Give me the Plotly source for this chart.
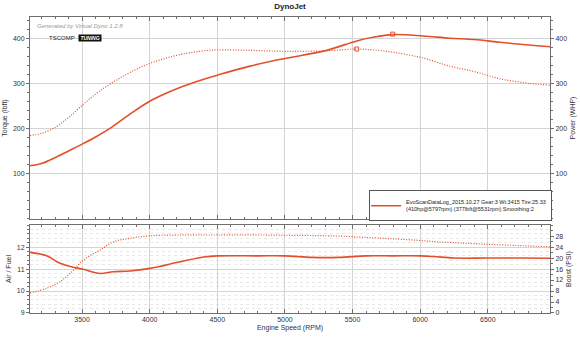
import plotly.graph_objects as go

# ---- data ----
rpm_top = [3115, 3200, 3300, 3400, 3500, 3600, 3700, 3800, 3900, 4000, 4100, 4200, 4300, 4400, 4500,
           4742, 5000, 5309, 5531, 5650, 5799, 6021, 6220, 6400, 6590, 6800, 6960]
power_whp = [118, 123, 136, 151, 166, 182, 200, 221, 242, 261, 276, 289, 300, 310, 319,
             339, 356, 374, 395, 403, 409, 406, 401, 398, 392, 386, 382]
torque_lbft = [185, 190, 203, 225, 252, 277, 298, 316, 332, 345, 355, 363, 369, 373, 375,
               374, 372, 373, 377, 375, 370, 357, 339, 327, 311, 301, 297]

rpm_bot = [3115, 3238, 3337, 3435, 3509, 3633, 3731, 3854, 4002, 4224, 4400, 4500, 4800, 5000,
           5200, 5400, 5600, 5800, 6000, 6100, 6250, 6500, 6750, 6960]
afr = [11.76, 11.60, 11.26, 11.08, 10.99, 10.80, 10.88, 10.91, 11.03, 11.33, 11.55, 11.60, 11.60, 11.60,
       11.53, 11.53, 11.60, 11.60, 11.60, 11.57, 11.50, 11.50, 11.50, 11.49]
boost_psi = [7.3, 9.0, 11.4, 15.5, 19.3, 22.9, 25.9, 27.2, 28.1, 28.4, 28.4, 28.4, 28.4, 28.3,
             28.2, 28.0, 27.5, 27.0, 26.4, 26.0, 25.6, 25.0, 24.5, 24.1]

peak_hp_rpm = [5797]
peak_hp = [410]
peak_tq_rpm = [5531]
peak_tq = [377]

x_ticks = [3500, 4000, 4500, 5000, 5500, 6000, 6500]
legend_name = ("EvoScanDataLog_2015.10.27 Gear:3 Wt:3415 Tire:25.33<br>"
               "(410hp@5797rpm) (377lbft@5531rpm) Smoothing:2")

RED = "#E2502A"
GRID = "#D4D4D4"
AX = "#6E6E6E"
FONT = "Liberation Sans"
DOTS = "1px,1.6px"

fig = go.Figure()

# top plot: power (solid, right axis) and torque (dotted, left axis)
fig.add_trace(go.Scatter(x=rpm_top, y=torque_lbft, xaxis="x2", yaxis="y3", mode="lines",
                         line=dict(color=RED, width=1.2, dash=DOTS, shape="spline"), showlegend=False))
fig.add_trace(go.Scatter(x=rpm_top, y=power_whp, xaxis="x2", yaxis="y4", mode="lines",
                         line=dict(color=RED, width=1.6, shape="spline"), name=legend_name))
fig.add_trace(go.Scatter(x=peak_hp_rpm, y=peak_hp, xaxis="x2", yaxis="y4", mode="markers",
                         marker=dict(symbol="square-open", size=4, color=RED, line=dict(width=1)),
                         showlegend=False))
fig.add_trace(go.Scatter(x=peak_tq_rpm, y=peak_tq, xaxis="x2", yaxis="y3", mode="markers",
                         marker=dict(symbol="square-open", size=4, color=RED, line=dict(width=1)),
                         showlegend=False))

# bottom plot: AFR (solid, left) and boost (dotted, right)
fig.add_trace(go.Scatter(x=rpm_bot, y=afr, xaxis="x", yaxis="y", mode="lines",
                         line=dict(color=RED, width=1.6, shape="spline"), showlegend=False))
fig.add_trace(go.Scatter(x=rpm_bot, y=boost_psi, xaxis="x", yaxis="y2", mode="lines",
                         line=dict(color=RED, width=1.2, dash=DOTS, shape="spline"), showlegend=False))

tickfont = dict(family=FONT, size=7, color="#333333")
titlefont = dict(family=FONT, size=7, color="#333333")

xcommon = dict(range=[3115, 6960], tickvals=x_ticks, showgrid=True, gridcolor=GRID, gridwidth=1,
               ticks="inside", ticklen=4, tickcolor=AX, showline=True, linecolor=AX, linewidth=1,
               mirror="ticks", zeroline=False, automargin=False,
               minor=dict(dtick=100, tick0=3100, ticks="inside", ticklen=2, tickcolor=AX, showgrid=False))

ycommon = dict(ticks="outside", ticklen=3, tickcolor=AX, showline=True, linecolor=AX,
               zeroline=False, automargin=False, tickfont=tickfont)

fig.update_layout(
    width=580, height=337,
    margin=dict(l=30, r=30, t=17, b=24),
    paper_bgcolor="white", plot_bgcolor="white",
    title=dict(text="<b>DynoJet</b>", x=0.5, xanchor="center", y=0.99, yanchor="top",
               font=dict(family=FONT, size=8, color="#222222")),
    xaxis=dict(domain=[0, 1], anchor="y", tickfont=tickfont,
               title=dict(text="Engine Speed (RPM)", font=titlefont, standoff=2), **xcommon),
    xaxis2=dict(domain=[0, 1], anchor="y3", matches="x", showticklabels=False, **xcommon),
    yaxis=dict(domain=[0, 0.297], range=[9, 13], tickvals=[9, 10, 11, 12],
               showgrid=True, gridcolor=GRID,
               title=dict(text="Air / Fuel", font=titlefont, standoff=4),
               minor=dict(dtick=0.2, ticks="outside", ticklen=2, tickcolor=AX, showgrid=True,
                          gridcolor="#E8E8E8", griddash="dot"), **ycommon),
    yaxis2=dict(domain=[0, 0.297], range=[0, 32], overlaying="y", side="right", anchor="x",
                tickvals=[0, 4, 8, 12, 16, 20, 24, 28], showgrid=False,
                title=dict(text="Boost (PSI)", font=titlefont, standoff=3),
                minor=dict(dtick=2, ticks="outside", ticklen=2, tickcolor=AX), **ycommon),
    yaxis3=dict(domain=[0.3176, 1], range=[0, 448], anchor="x2", tickvals=[100, 200, 300, 400],
                showgrid=True, gridcolor=GRID,
                title=dict(text="Torque (lbft)", font=titlefont, standoff=4),
                minor=dict(dtick=20, ticks="outside", ticklen=2, tickcolor=AX), **ycommon),
    yaxis4=dict(domain=[0.3176, 1], range=[0, 448], overlaying="y3", side="right", anchor="x2",
                tickvals=[100, 200, 300, 400], showgrid=False,
                title=dict(text="Power (WHP)", font=titlefont, standoff=3),
                minor=dict(dtick=20, ticks="outside", ticklen=2, tickcolor=AX), **ycommon),
    legend=dict(x=1.004, xanchor="right", y=0.31, yanchor="bottom", bgcolor="white",
                bordercolor="#555555", borderwidth=1, font=dict(family=FONT, size=5.5, color="#222222"),
                itemwidth=30, tracegroupgap=0, indentation=-4),
    annotations=[
        dict(text="<i>Generated by Virtual Dyno 1.2.8</i>", xref="paper", yref="paper",
             x=0.01, y=0.985, xanchor="left", yanchor="top", showarrow=False,
             font=dict(family=FONT, size=6, color="#9A9A9A")),
        dict(text="TSCOMP", xref="paper", yref="paper", x=0.033, y=0.93,
             xanchor="left", yanchor="middle", showarrow=False,
             font=dict(family=FONT, size=6, color="#222222")),
        dict(text="<b><i> TUNING </i></b>", xref="paper", yref="paper", x=0.092, y=0.93,
             xanchor="left", yanchor="middle", showarrow=False, bgcolor="#111111", borderpad=0,
             font=dict(family=FONT, size=5, color="white")),
    ],
)

fig.write_html("out.html")
